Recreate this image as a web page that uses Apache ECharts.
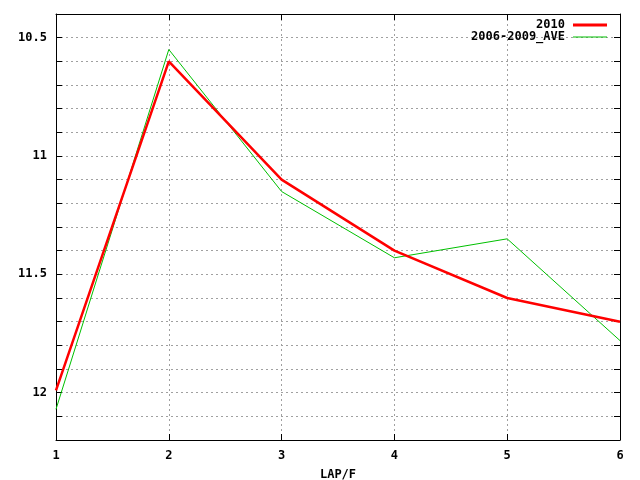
<!DOCTYPE html>
<html>
<head>
<meta charset="utf-8">
<script src="https://cdn.jsdelivr.net/npm/echarts@6/dist/echarts.min.js"></script>
<style>
    html, body { margin: 0; padding: 0; background: #fff; }
    #chart { width: 640px; height: 480px; }
</style>
</head>
<body>
<div id="chart"></div>
<script>
(function () {

    'use strict';

    // 横轴：圈数
    var laps = [1, 2, 3, 4, 5, 6],
        // 2010 年
        values2010 = [11.99, 10.60, 11.10, 11.40, 11.60, 11.70],
        // 2006-2009 平均
        valuesAve = [12.07, 10.55, 11.15, 11.43, 11.35, 11.78],
        seriesNames = ['2010', '2006-2009_AVE'],
        xName = 'LAP/F';

    var fontFamily = '"DejaVu Sans Mono", "Liberation Mono", monospace',
        gridLine = { show: true, lineStyle: { color: '#a0a0a0', type: [2, 3], width: 1 } },
        axisLine = { show: true, onZero: false, lineStyle: { color: '#000', width: 1 } },
        tick = { show: true, inside: true, length: 6, lineStyle: { color: '#000' } };

    function pairs(ys) {
        return laps.map(function (x, i) { return [x, ys[i]]; });
    }

    // 只在 0.5 的倍数处显示刻度文字
    function yLabel(v) {
        var h = Math.round(v * 2);
        if (Math.abs(v * 2 - h) > 1e-6) return '';
        return String(Math.round(v * 10) / 10);
    }

    var myChart = echarts.init(document.getElementById('chart'));

    var option = {
        animation: false,
        backgroundColor: '#fff',
        textStyle: { fontFamily: fontFamily },
        grid: { left: 56, right: 20, top: 14, bottom: 40, outerBoundsMode: 'none', containLabel: false },
        legend: {
            orient: 'vertical',
            right: 28,
            top: 14,
            align: 'right',
            itemGap: 0,
            itemWidth: 34,
            itemHeight: 13,
            symbolKeepAspect: true,
            textStyle: { fontFamily: fontFamily, fontSize: 12, fontWeight: 'bold', color: '#000', padding: [0, 3, 0, 0] },
            data: [
                { name: seriesNames[0], icon: 'path://M0,0H34V3H0Z' },
                { name: seriesNames[1], icon: 'path://M0,0H34V1H0Z' }
            ]
        },
        xAxis: [{
            type: 'value',
            min: 1, max: 6, interval: 1,
            name: xName,
            nameLocation: 'middle',
            nameGap: 29,
            nameTextStyle: { fontFamily: fontFamily, fontSize: 12, fontWeight: 'bold', color: '#000' },
            axisLine: axisLine,
            axisTick: tick,
            splitLine: gridLine,
            axisLabel: { color: '#000', fontSize: 12, fontWeight: 'bold', fontFamily: fontFamily, margin: 10 }
        }, {
            type: 'value',
            position: 'top',
            min: 1, max: 6, interval: 1,
            axisLine: axisLine,
            axisTick: tick,
            splitLine: { show: false },
            axisLabel: { show: false }
        }],
        yAxis: [{
            type: 'value',
            inverse: true,
            min: 10.4, max: 12.2, interval: 0.1,
            axisLine: axisLine,
            axisTick: tick,
            splitLine: gridLine,
            axisLabel: { color: '#000', fontSize: 12, fontWeight: 'bold', fontFamily: fontFamily, margin: 9, formatter: yLabel }
        }, {
            type: 'value',
            position: 'right',
            inverse: true,
            min: 10.4, max: 12.2, interval: 0.1,
            axisLine: axisLine,
            axisTick: tick,
            splitLine: { show: false },
            axisLabel: { show: false }
        }],
        series: [{
            name: seriesNames[0],
            type: 'line',
            data: pairs(values2010),
            symbol: 'none',
            lineStyle: { color: '#ff0000', width: 2.5 },
            itemStyle: { color: '#ff0000' },
            z: 3
        }, {
            name: seriesNames[1],
            type: 'line',
            data: pairs(valuesAve),
            symbol: 'none',
            lineStyle: { color: '#00c000', width: 1 },
            itemStyle: { color: '#00c000' },
            z: 2
        }]
    };

    myChart.setOption(option);
})();
</script>
</body>
</html>
